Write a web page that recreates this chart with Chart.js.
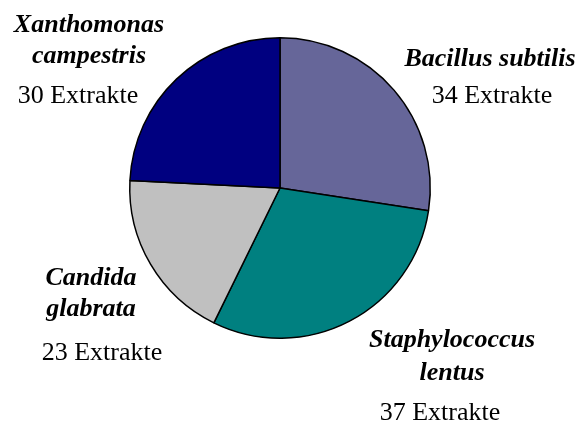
<!DOCTYPE html>
<html>
<head>
<meta charset="utf-8">
<script src="https://cdn.jsdelivr.net/npm/chart.js@4"></script>
<style>
  html, body { margin: 0; padding: 0; background: #fff; }
  #wrap { width: 581px; height: 427px; }
</style>
</head>
<body>
<div id="wrap"><canvas id="pieChart" width="581" height="427"></canvas></div>
<script>
// Daten
const organisms = [
  ["Bacillus subtilis"],
  ["Staphylococcus", "lentus"],
  ["Candida", "glabrata"],
  ["Xanthomonas", "campestris"],
];
const extractCounts = [34, 37, 23, 30];
const countSuffix = "Extrakte";
const sliceColors = ["#666699", "#008080", "#C0C0C0", "#000080"];

// Position der Beschriftung je Segment (Mitte x, Grundlinien y)
const labelLayout = [
  { x: 490, names: [66], count: { x: 492, y: 103 } },
  { x: 452, names: [347, 380], count: { x: 440, y: 420 } },
  { x: 91, names: [285, 316], count: { x: 102, y: 360 } },
  { x: 89, names: [32, 63], count: { x: 78, y: 103 } },
];

const labelPlugin = {
  id: "sliceLabels",
  afterDraw(chart) {
    const ctx = chart.ctx;
    ctx.save();
    ctx.fillStyle = "#000";
    ctx.textAlign = "center";
    ctx.textBaseline = "alphabetic";
    organisms.forEach((lines, i) => {
      const pos = labelLayout[i];
      ctx.font = "italic bold 26px 'Liberation Serif', 'Times New Roman', serif";
      lines.forEach((line, j) => ctx.fillText(line, pos.x, pos.names[j]));
      ctx.font = "26px 'Liberation Serif', 'Times New Roman', serif";
      ctx.fillText(`${extractCounts[i]} ${countSuffix}`, pos.count.x, pos.count.y);
    });
    ctx.restore();
  },
};

new Chart(document.getElementById("pieChart"), {
  type: "pie",
  data: {
    labels: organisms.map((l) => l.join(" ")),
    datasets: [
      {
        data: extractCounts,
        backgroundColor: sliceColors,
        borderColor: "#000",
        borderWidth: 1.5,
      },
    ],
  },
  options: {
    responsive: false,
    animation: false,
    layout: {
      padding: { left: 0, right: 21, top: 37, bottom: 88 },
    },
    plugins: {
      legend: { display: false },
      tooltip: { enabled: false },
    },
  },
  plugins: [labelPlugin],
});
</script>
</body>
</html>
